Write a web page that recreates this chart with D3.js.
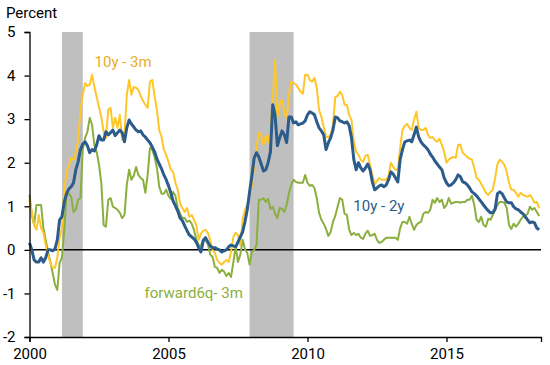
<!DOCTYPE html>
<html>
<head>
<meta charset="utf-8">
<script src="https://cdn.jsdelivr.net/npm/d3@7"></script>
<style>
  html, body { margin: 0; padding: 0; background: #fff; }
  svg { display: block; font-family: Roboto, "Noto Sans", sans-serif; }
</style>
</head>
<body>
<svg id="chart" width="550" height="365"></svg>
<script>
// ---- Data (monthly, starting Jan 2000) ----
const startYear = 2000;
const spread10y3m = [1.15,0.87,0.57,0.46,0.80,0.50,0.39,0.11,-0.11,-0.30,-0.41,-0.41,
-0.18,0.28,0.50,1.38,1.79,1.95,2.11,2.07,2.23,2.52,3.21,3.56,
3.83,3.76,3.79,4.02,3.74,3.51,3.28,3.05,2.71,2.57,3.21,3.26,
2.80,3.03,2.80,3.10,2.52,2.64,3.56,3.90,3.56,3.74,3.72,3.67,
3.53,3.42,3.33,3.26,3.86,3.90,3.53,3.21,2.75,2.59,2.30,2.18,
2.02,1.84,1.79,1.54,1.38,1.06,0.96,0.87,0.96,0.76,0.80,0.69,
0.57,0.23,0.37,0.44,0.46,0.39,0.23,0.00,-0.07,-0.23,-0.30,-0.34,
-0.28,-0.23,-0.28,-0.05,0.30,0.39,0.34,0.11,0.69,0.92,1.03,1.26,
1.49,1.95,2.36,2.69,2.62,2.41,2.62,2.46,2.75,3.44,4.36,3.03,
3.37,3.44,3.14,3.03,3.56,3.86,3.83,3.79,3.72,3.63,3.58,4.02,
4.02,3.90,3.86,3.95,3.72,3.21,3.05,2.82,2.59,2.59,2.64,2.87,
3.51,3.53,3.63,3.56,3.33,3.33,3.10,2.98,2.48,2.25,2.18,2.07,
2.02,2.16,2.18,1.95,1.72,1.51,1.58,1.65,1.61,1.61,1.61,1.70,
2.00,1.90,1.84,1.84,2.34,2.75,2.85,2.89,2.80,2.75,2.98,3.17,
2.80,2.75,2.75,2.80,2.64,2.57,2.59,2.52,2.48,2.55,2.41,2.25,
2.00,2.07,2.11,2.13,2.11,2.41,2.41,2.23,2.18,2.13,2.09,2.07,
1.88,1.65,1.61,1.51,1.42,1.31,1.26,1.33,1.38,1.65,1.97,2.07,
2.02,1.95,1.79,1.54,1.38,1.38,1.31,1.22,1.31,1.26,1.24,1.22,
1.26,1.19,1.08,1.10,0.96];

const spread10y2y = [0.16,0.00,-0.23,-0.28,-0.28,-0.18,-0.28,-0.18,0.00,0.00,-0.02,0.02,
0.23,0.69,0.76,1.10,1.29,1.40,1.45,1.54,1.84,2.02,2.30,2.43,
2.48,2.39,2.23,2.30,2.27,2.41,2.62,2.52,2.52,2.71,2.64,2.69,
2.75,2.62,2.69,2.75,2.69,2.48,2.80,2.98,2.89,2.82,2.75,2.71,
2.73,2.64,2.59,2.52,2.46,2.36,2.25,2.09,1.97,1.86,1.72,1.61,
1.47,1.31,1.12,1.01,0.89,0.73,0.67,0.55,0.44,0.34,0.30,0.25,
0.18,0.05,-0.05,0.21,0.28,0.18,0.09,0.05,0.05,0.02,0.00,-0.05,
-0.02,0.00,0.07,0.11,0.09,0.07,0.18,0.30,0.41,0.64,0.92,1.33,
1.70,2.11,2.23,2.13,1.97,1.81,1.84,2.00,2.25,3.33,3.10,2.39,
2.57,2.73,2.64,2.46,3.05,3.05,2.91,2.94,2.87,2.89,2.91,2.96,
3.10,3.17,3.14,3.10,2.94,2.80,2.73,2.64,2.30,2.46,2.57,2.75,
3.05,3.03,2.96,2.94,2.91,2.94,2.85,2.57,2.07,1.84,2.00,1.88,
1.81,1.88,1.97,1.84,1.56,1.38,1.42,1.47,1.49,1.45,1.49,1.61,
1.79,1.74,1.65,1.56,2.07,2.30,2.48,2.50,2.52,2.48,2.64,2.82,
2.59,2.48,2.41,2.36,2.30,2.20,2.13,2.04,1.97,1.90,1.84,1.65,
1.54,1.47,1.49,1.54,1.61,1.72,1.68,1.56,1.54,1.49,1.42,1.33,
1.29,1.24,1.17,1.10,1.03,0.96,0.90,0.85,0.85,0.94,1.29,1.33,
1.29,1.19,1.10,1.08,1.08,0.99,0.94,0.92,0.87,0.83,0.76,0.69,
0.62,0.64,0.62,0.50,0.46];

const forward6q3m = [1.26,0.80,0.57,1.03,1.03,1.03,0.50,0.23,-0.05,-0.28,-0.53,-0.80,
-0.92,-0.30,-0.18,0.46,1.26,1.29,1.22,0.87,0.92,1.15,1.19,2.30,
2.57,2.71,3.03,2.87,2.41,2.25,1.95,1.54,0.57,0.53,1.15,1.19,
0.99,0.96,0.92,0.85,0.73,0.80,1.49,1.84,1.61,1.70,1.90,1.72,
1.65,1.61,1.31,1.72,2.34,2.30,2.13,1.88,1.45,1.29,1.29,1.38,
1.24,1.17,1.33,1.24,0.96,0.83,0.73,0.73,0.64,0.67,0.60,0.46,
0.23,0.11,0.09,0.25,0.21,0.14,-0.11,-0.16,-0.39,-0.41,-0.53,-0.46,
-0.50,-0.60,-0.53,-0.62,-0.28,0.07,-0.28,-0.11,0.23,0.02,-0.07,-0.34,
-0.05,0.00,0.11,1.15,1.15,1.19,1.10,1.17,0.94,0.99,0.83,0.73,
0.96,0.94,0.87,1.03,1.31,1.49,1.61,1.56,1.54,1.54,1.54,1.72,
1.54,1.47,1.49,1.42,1.19,0.85,0.69,0.60,0.48,0.32,0.41,0.64,
0.78,0.99,1.19,1.15,0.83,0.80,0.46,0.34,0.39,0.34,0.37,0.28,
0.25,0.37,0.44,0.32,0.34,0.37,0.23,0.16,0.18,0.23,0.28,0.28,
0.28,0.28,0.28,0.23,0.50,0.64,0.64,0.60,0.76,0.60,0.46,0.57,
0.62,0.64,0.83,0.87,0.85,0.92,1.15,1.08,1.19,1.10,1.15,0.96,
1.03,1.19,1.06,1.08,1.10,1.10,1.08,1.10,1.10,1.15,1.15,1.24,
1.03,0.69,0.64,0.76,0.57,0.53,0.71,0.69,0.80,0.92,1.03,1.10,
1.10,1.08,0.96,0.57,0.48,0.60,0.53,0.60,0.69,0.76,0.78,0.83,
0.99,0.92,0.96,0.87,0.78];

const recessionStart = ["2001-03", "2007-12"];
const recessionEnd   = ["2001-11", "2009-06"];
const yTicks = [-2, -1, 0, 1, 2, 3, 4, 5];
const xTicks = [2000, 2005, 2010, 2015];

const seriesNames = ["forward6q- 3m", "10y - 3m", "10y - 2y"];
const seriesColors = ["#8BAF3E", "#FFC629", "#2B5C8B"];
const labelColors = ["#8BAF3E", "#E9AC1C", "#2B5C8B"];
const seriesWidths = [2, 2, 3];
// label anchors in data units (year, percent)
const labelYear = [2004.14, 2002.34, 2011.65];
const labelValue = [-1.10, 4.20, 0.895];

// ---- Setup ----
const svg = d3.select("#chart");
const x = d3.scaleLinear().domain([2000, 2018.4]).range([29.5, 541]);
const y = d3.scaleLinear().domain([-2, 5]).range([337, 32]);

const toYear = s => { const [yy, mm] = s.split("-").map(Number); return yy + (mm - 1) / 12; };

// recession shading
svg.append("g").selectAll("rect")
  .data(recessionStart.map((s, i) => [toYear(s), toYear(recessionEnd[i]) + 1 / 12]))
  .join("rect")
  .attr("x", d => x(d[0]))
  .attr("width", d => x(d[1]) - x(d[0]))
  .attr("y", y(5))
  .attr("height", y(-2) - y(5))
  .attr("fill", "#BFBFBF");

// zero line
svg.append("line")
  .attr("x1", x(2000)).attr("x2", x(2018.4))
  .attr("y1", y(0)).attr("y2", y(0))
  .attr("stroke", "#000").attr("stroke-width", 1.5);

// lines
const allSeries = [forward6q3m, spread10y3m, spread10y2y];
const line = d3.line()
  .x((d, i) => x(startYear + i / 12))
  .y(d => y(d));

allSeries.forEach((s, k) => {
  svg.append("path")
    .datum(s)
    .attr("d", line)
    .attr("fill", "none")
    .attr("stroke", seriesColors[k])
    .attr("stroke-width", seriesWidths[k])
    .attr("stroke-linejoin", "round");
});

// axes
const yAxis = d3.axisLeft(y).tickValues(yTicks).tickSize(5).tickPadding(9).tickFormat(d => String(d));
const gy = svg.append("g").attr("transform", `translate(${x(2000)},0)`).call(yAxis);
gy.select(".domain").attr("stroke", "#000").attr("stroke-width", 1.3);
gy.selectAll(".tick line").attr("stroke", "#000").attr("stroke-width", 1.3);
gy.selectAll("text").attr("font-size", 15).attr("fill", "#000").attr("font-family", "Roboto");

const xAxis = d3.axisBottom(x).tickValues(xTicks).tickSize(5).tickPadding(6).tickFormat(d => String(d));
const gx = svg.append("g").attr("transform", `translate(0,${y(-2)})`).call(xAxis);
gx.select(".domain").attr("stroke", "#000").attr("stroke-width", 1.3);
gx.selectAll(".tick line").attr("stroke", "#000").attr("stroke-width", 1.3);
gx.selectAll("text").attr("font-size", 15).attr("fill", "#000").attr("font-family", "Roboto");

// y title
svg.append("text")
  .attr("x", 6).attr("y", 18)
  .attr("font-size", 15).attr("fill", "#000")
  .text("Percent");

// series labels
seriesNames.forEach((n, k) => {
  svg.append("text")
    .attr("x", x(labelYear[k]))
    .attr("y", y(labelValue[k]))
    .attr("font-size", 15)
    .attr("fill", labelColors[k])
    .text(n);
});
</script>
</body>
</html>
